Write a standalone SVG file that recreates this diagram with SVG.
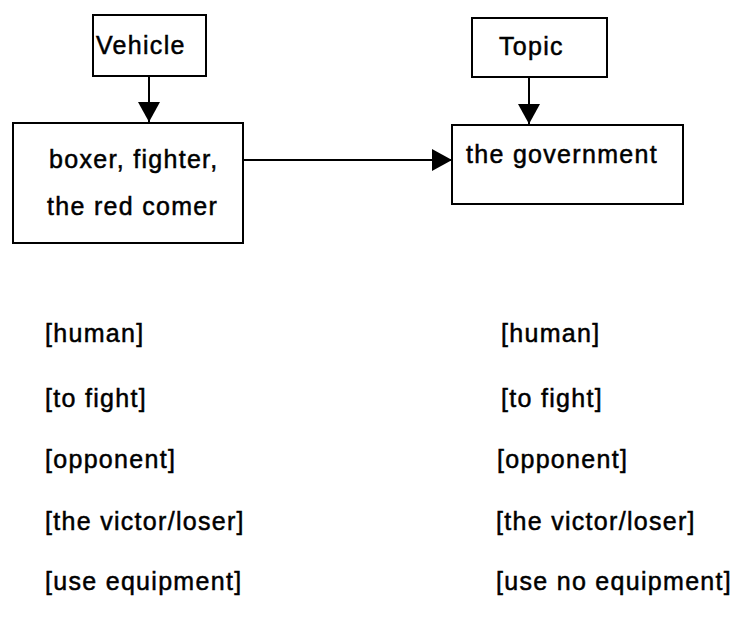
<svg xmlns="http://www.w3.org/2000/svg" width="737" height="618" viewBox="0 0 737 618">
<style>
text{font-family:"Liberation Sans",Arial,sans-serif;font-size:25px;letter-spacing:1.3px;fill:#000;stroke:#000;stroke-width:0.5}
.box{fill:#fff;stroke:#000;stroke-width:2}
.conn{stroke:#000;stroke-width:2;fill:none}
</style>
<defs>
<marker id="ah" viewBox="0 0 20 22" refX="20" refY="11" markerWidth="20" markerHeight="22" markerUnits="userSpaceOnUse" orient="auto">
<path d="M0,0 L20,11 L0,22 Z" fill="#000"/>
</marker>
</defs>
<rect width="737" height="618" fill="#fff"/>
<g id="vehicle">
<rect class="box" x="93" y="15" width="113" height="61"/>
<text x="96" y="54">Vehicle</text>
</g>
<g id="topic">
<rect class="box" x="472" y="18" width="135" height="59"/>
<text x="499" y="55">Topic</text>
</g>
<g id="source">
<rect class="box" x="13" y="123" width="230" height="120"/>
<text x="49" y="168">boxer, fighter,</text>
<text x="47" y="215">the red comer</text>
</g>
<g id="target">
<rect class="box" x="452" y="125" width="231" height="79"/>
<text x="466" y="163">the government</text>
</g>
<g id="connectors">
<line class="conn" x1="149" y1="76" x2="149" y2="122" marker-end="url(#ah)"/>
<line class="conn" x1="529" y1="77" x2="529" y2="124" marker-end="url(#ah)"/>
<line class="conn" x1="243" y1="160" x2="452" y2="160" marker-end="url(#ah)"/>
</g>
<g id="source-features">
<text x="45" y="342">[human]</text>
<text x="45" y="407">[to fight]</text>
<text x="45" y="468">[opponent]</text>
<text x="45" y="530">[the victor/loser]</text>
<text x="45" y="590">[use equipment]</text>
</g>
<g id="target-features">
<text x="501" y="342">[human]</text>
<text x="501" y="407">[to fight]</text>
<text x="497" y="468">[opponent]</text>
<text x="496" y="530">[the victor/loser]</text>
<text x="496" y="590">[use no equipment]</text>
</g>
</svg>
